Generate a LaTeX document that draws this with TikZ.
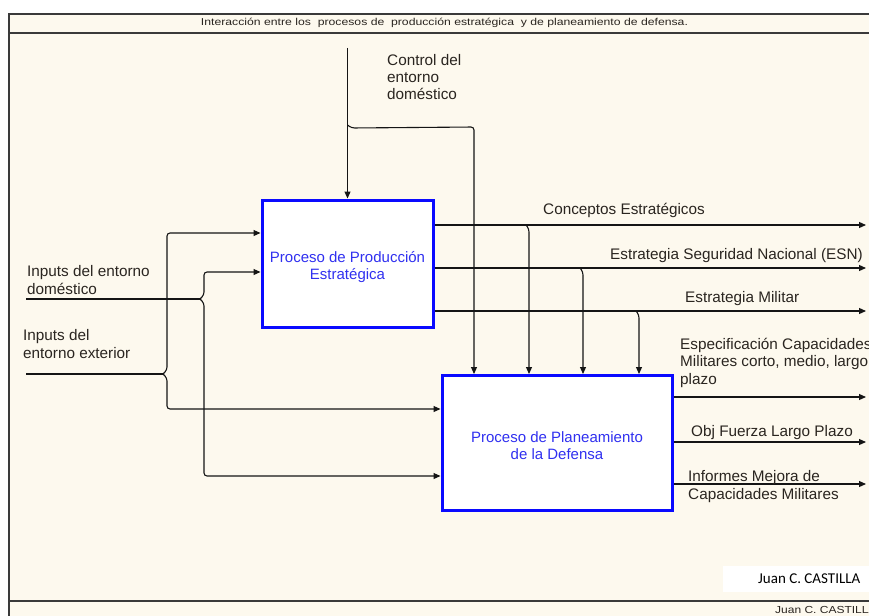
\documentclass[tikz,border=0pt]{standalone}
\usepackage{fontspec}
\setmainfont{Liberation Sans}
\newfontfamily\calibfont{Carlito}
\usetikzlibrary{arrows.meta}
\definecolor{cream}{HTML}{FDF9EE}
\definecolor{procblue}{HTML}{0A0AFF}
\definecolor{proctext}{HTML}{3030F0}
\definecolor{linec}{HTML}{151515}
\definecolor{framec}{HTML}{3A3A3A}
\definecolor{lblc}{HTML}{2A2520}
\begin{document}
\begin{tikzpicture}[x=1pt,y=-1pt,
  lbl/.style={font=\fontsize{15.3}{17.5}\selectfont, text=lblc, inner sep=0pt, align=left, anchor=base west},
  proc/.style={draw=procblue, line width=3pt, fill=white},
  proctxt/.style={text=proctext, align=center, inner sep=0pt, font=\fontsize{15}{17}\selectfont},
  flow/.style={draw=linec, line width=1.1pt, rounded corners=3pt, -{Triangle[length=7pt,width=6pt]}},
  link/.style={draw=linec, line width=1.1pt, rounded corners=3pt},
  framel/.style={draw=framec, line width=1.4pt}
]
\useasboundingbox (0,0) rectangle (869,615);
\clip (0,0) rectangle (869,615);
\fill[white] (0,0) rectangle (869,615);
\fill[cream] (9,14) rectangle (890,620);
\draw[framel] (9,620) -- (9,14) -- (890,14);
\draw[framel] (9,33) -- (890,33);
\draw[framel] (9,601) -- (890,601);

% title
\node[inner sep=0pt, text=lblc] (title) at (444.5,23)
  {\resizebox{487pt}{\height}{\fontsize{10}{12}\selectfont Interacción entre los\ \ procesos de\ \ producción estratégica\ \ y de planeamiento de defensa.}};

% process boxes
\node[proc, minimum width=171, minimum height=127] (p1) at (347.5,263.5) {};
\node[proctxt] (p1t) at (347.5,267) {Proceso de Producción\\Estratégica};
\node[proc, minimum width=230, minimum height=135] (p2) at (557,443) {};
\node[proctxt] (p2t) at (557,446) {Proceso de Planeamiento\\de la Defensa};

% control
\coordinate (ctrl) at (347.5,48);
\coordinate (cj) at (347.5,127);
\coordinate (cb) at (474,127);
\draw[flow] (ctrl) -- (p1.north);
\draw[flow] (cj) ++(0,-2) -- ++(4,3) -- (cb) -- (p2.north -| cb);
\node[lbl] (lctrl) at (387,100) {Control del\\entorno\\doméstico};

% outputs of p1
\coordinate (o1) at (866,225);
\coordinate (o2) at (866,268);
\coordinate (o3) at (866,311);
\draw[flow] (o1 -| p1.east) -- (o1);
\draw[flow] (o2 -| p1.east) -- (o2);
\draw[flow] (o3 -| p1.east) -- (o3);
\coordinate (b1) at (529,225);
\coordinate (b2) at (583,268);
\coordinate (b3) at (639,311);
\draw[flow] (b1) ++(-3,0) -- ++(3,4) -- (p2.north -| b1);
\draw[flow] (b2) ++(-3,0) -- ++(3,4) -- (p2.north -| b2);
\draw[flow] (b3) ++(-3,0) -- ++(3,4) -- (p2.north -| b3);
\node[lbl] (l1) at (543,214) {Conceptos Estratégicos};
\node[lbl] (l2) at (610,259) {Estrategia Seguridad Nacional (ESN)};
\node[lbl] (l3) at (685,302) {Estrategia Militar};

% outputs of p2
\coordinate (q1) at (866,397);
\coordinate (q2) at (866,442);
\coordinate (q3) at (866,484);
\draw[flow] (q1 -| p2.east) -- (q1);
\draw[flow] (q2 -| p2.east) -- (q2);
\draw[flow] (q3 -| p2.east) -- (q3);
\node[lbl] (l4) at (680,384) {Especificación Capacidades\\Militares corto, medio, largo\\plazo};
\node[lbl] (l5) at (691,436) {Obj Fuerza Largo Plazo};
\node[lbl] (l6) at (688,499) {Informes Mejora de\\Capacidades Militares};

% inputs
\coordinate (id) at (26,299);
\coordinate (dj) at (200,299);
\coordinate (dt) at (204,272);
\coordinate (db) at (204,476);
\draw[link] (id) -- (dj);
\draw[flow] (dj) -- ++(4,-4) -- (dt) -- (dt -| p1.west);
\draw[flow] (dj) -- ++(4,4) -- (db) -- (db -| p2.west);
\node[lbl] (lid) at (27,294) {Inputs del entorno\\doméstico};

\coordinate (ie) at (26,374);
\coordinate (ej) at (163,374);
\coordinate (et) at (167,233);
\coordinate (eb) at (167,409);
\draw[link] (ie) -- (ej);
\draw[flow] (ej) -- ++(4,-4) -- (et) -- (et -| p1.west);
\draw[flow] (ej) -- ++(4,4) -- (eb) -- (eb -| p2.west);
\node[lbl] (lie) at (23,358) {Inputs del\\entorno exterior};

% author
\node[fill=white, minimum width=150, minimum height=26, anchor=north west, inner sep=0pt] (auth) at (723,566) {};
\node[inner sep=0pt, anchor=base west, font=\calibfont\fontsize{15}{17}\selectfont, text=black] (authtxt) at (758,583) {Juan C. CASTILLA};
\node[inner sep=0pt, anchor=base west, text=lblc, font=\fontsize{12}{14}\selectfont] (foot) at (775,613)
  {\scalebox{1}[0.85]{Juan C. CASTILLA}};
\end{tikzpicture}
\end{document}
